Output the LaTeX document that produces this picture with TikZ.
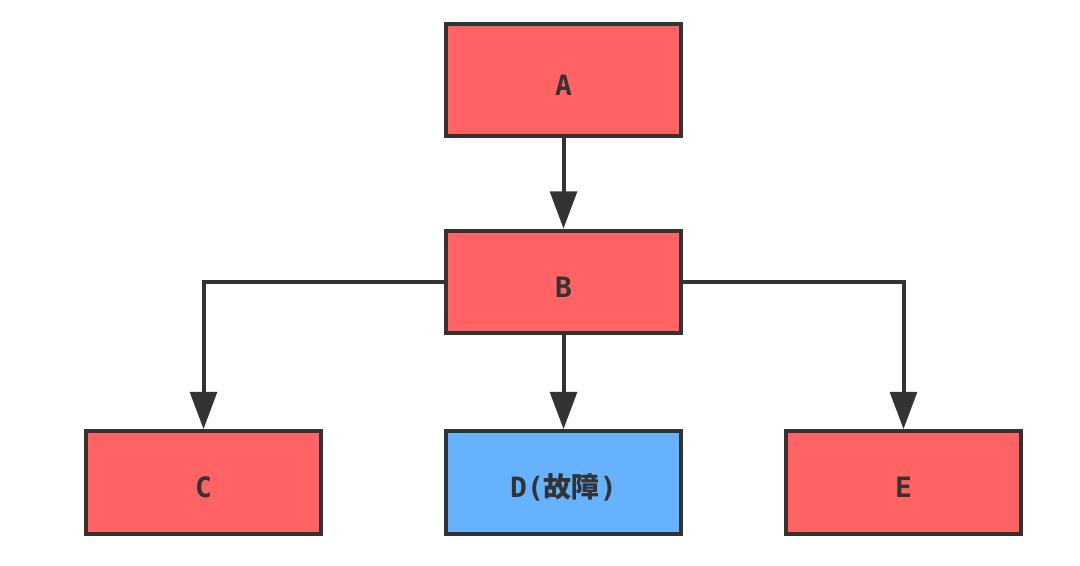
\documentclass[tikz,border=0pt]{standalone}
\usepackage{fontspec}
\setmonofont{DejaVu Sans Mono}
\newfontfamily\cjk{Noto Sans CJK SC}
\usetikzlibrary{arrows.meta}
\definecolor{boxred}{HTML}{FF6363}
\definecolor{boxblue}{HTML}{66B2FF}
\definecolor{ink}{HTML}{333333}
\tikzset{
  box/.style={draw=ink, line width=3pt, fill=boxred, minimum width=176pt, minimum height=77pt, inner sep=0pt, text height=23pt, text depth=0pt, font=\ttfamily\bfseries\fontsize{21pt}{24pt}\selectfont, text=ink},
  faultbox/.style={box, fill=boxblue},
  conn/.style={draw=ink, line width=3pt, -{Triangle[length=28pt, width=20pt]}}
}
\begin{document}
\begin{tikzpicture}[x=0.75pt, y=-0.75pt]
\useasboundingbox (0,0) rectangle (1080,566);
\node[box, minimum height=84pt] (A) at (563.5,80) {A};
\node[box] (B) at (563.5,282) {B};
\node[box] (C) at (203.5,482.5) {C};
\node[faultbox] (D) at (563.5,482.5) {D({\cjk 故障})};
\node[box] (E) at (903.5,482.5) {E};
\draw[conn] (A) -- (B);
\draw[conn] (B) -- (D);
\draw[conn] (B.west) -| (C.north);
\draw[conn] (B.east) -| (E.north);
\end{tikzpicture}
\end{document}
